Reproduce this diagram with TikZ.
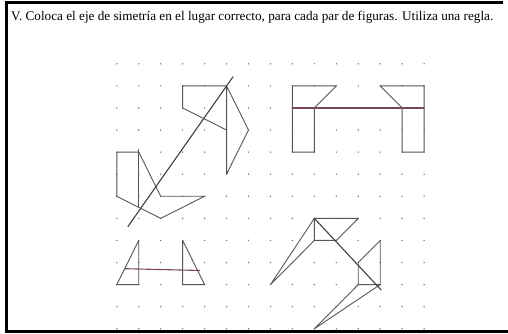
\documentclass[tikz,border=0pt]{standalone}
\usepackage{fontspec}
\setmainfont{Liberation Serif}
\definecolor{pen}{RGB}{120,70,85}
\definecolor{shape}{RGB}{85,85,85}
\definecolor{dotc}{RGB}{120,120,120}
\begin{document}
\begin{tikzpicture}[x=1pt,y=-1pt,
  frame/.style={line width=3pt,black},
  fig/.style={draw=shape,line width=0.9pt,line join=round},
  axisdark/.style={draw=black!75,line width=1.1pt},
  axispen/.style={draw=pen,line width=1.1pt},
  gdot/.style={fill=dotc}]
\useasboundingbox (0,0) rectangle (508,334);
% frame
\draw[frame] (4.5,2.5) -- (503,2.5);
\draw[frame] (6,1) -- (6,333);
\draw[frame] (4.5,331.7) -- (508,331.7);
% title
\node[anchor=base west,inner sep=0pt,font=\fontsize{13.2}{15}\selectfont] (title) at (11,20.7)
  {V. Coloca el eje de simetría en el lugar correcto, para cada par de figuras. Utiliza una regla.};
\begin{scope}[shift={(116.8,63.8)},x=21.95pt,y=-22.08pt]
  % grid of dots
  \foreach \c in {0,...,14}
    \foreach \r in {0,...,12}
      \fill[gdot] (\c,\r) circle (0.8pt);
  % ---- top-left pair ----
  \draw[fig] (5,3) -- (3,2) -- (3,1) -- (5,1) -- (6,3) -- (5,5) -- (5,1);
  \draw[fig] (0,6) -- (0,4) -- (1,4) -- (2,6) -- (4,6) -- (2,7) -- cycle;
  \draw[fig] (1,3.85) -- (1,6.5);
  \draw[axisdark] (0.5,7.38) -- (5.3,0.58);
  % ---- top-right pair ----
  \draw[fig] (8,1) -- (10,1) -- (9,2) -- (9,4) -- (8,4) -- cycle;
  \draw[fig] (12,1) -- (14,1) -- (14,4) -- (13,4) -- (13,2) -- cycle;
  \draw[axispen] (8,2) -- (14,2);
  % ---- bottom-left pair ----
  \draw[fig] (1,8) -- (1,10) -- (0,10) -- cycle;
  \draw[fig] (3,8) -- (3,10) -- (4,10) -- cycle;
  \draw[axispen] (0.37,9.28) -- (3.8,9.36);
  % ---- bottom-right pair ----
  \draw[fig] (9,7) -- (11,7) -- (10,8) -- (9,8) -- cycle;
  \draw[fig] (9,7) -- (7,10) -- (9,8);
  \draw[fig] (12,8) -- (11,9) -- (11,10) -- (12,10) -- cycle;
  \draw[fig] (11,10) -- (9,12) -- (12,10);
  \draw[axisdark] (9,7) -- (12.05,10.25);
\end{scope}
\end{tikzpicture}
\end{document}
